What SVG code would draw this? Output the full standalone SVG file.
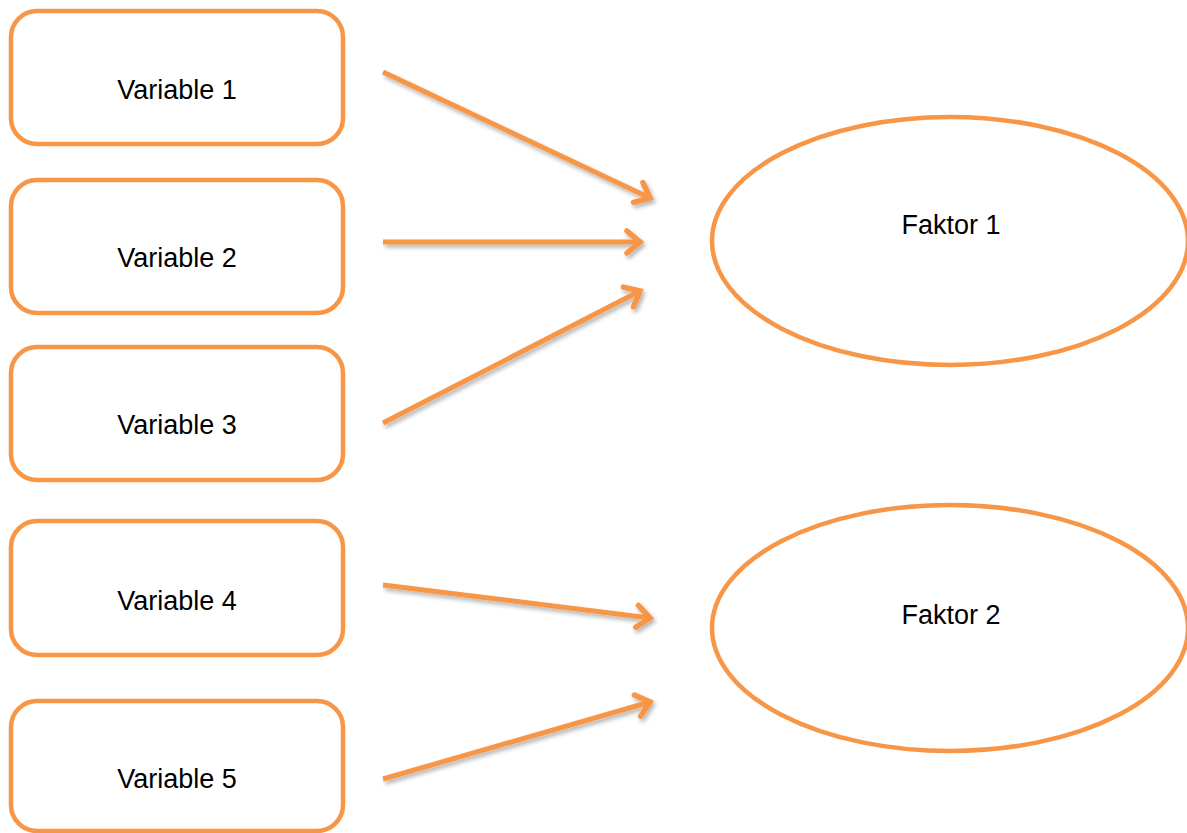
<svg xmlns="http://www.w3.org/2000/svg" width="1187" height="833" viewBox="0 0 1187 833">
<style>
.box{fill:#fff;stroke:#F79646;stroke-width:4.5}
.ell{fill:#fff;stroke:#F79646;stroke-width:4.5}
.lbl{font-family:"Liberation Sans",Arial,sans-serif;font-size:27px;fill:#000;text-anchor:middle}
.edge{fill:none;stroke:#F79646;stroke-width:5;stroke-linecap:butt}
</style>
<defs>
<filter id="sh" x="-10%" y="-50%" width="120%" height="200%">
<feDropShadow dx="2" dy="3" stdDeviation="2" flood-color="#000" flood-opacity="0.3"/>
</filter>
<marker id="arr" markerUnits="userSpaceOnUse" markerWidth="30" markerHeight="30" refX="22" refY="15" orient="auto" viewBox="0 0 30 30">
<polyline points="9,4 22,15 9,26" fill="none" stroke="#F79646" stroke-width="5.5" stroke-linecap="round" stroke-linejoin="miter"/>
</marker>
</defs>
<rect width="1187" height="833" fill="#fff"/>
<g id="var1"><rect class="box" x="11" y="11" width="332" height="133" rx="26"/><text class="lbl" x="177" y="99">Variable 1</text></g>
<g id="var2"><rect class="box" x="11" y="180" width="332" height="133" rx="26"/><text class="lbl" x="177" y="267">Variable 2</text></g>
<g id="var3"><rect class="box" x="11" y="347" width="332" height="133" rx="26"/><text class="lbl" x="177" y="434">Variable 3</text></g>
<g id="var4"><rect class="box" x="11" y="521" width="332" height="134" rx="26"/><text class="lbl" x="177" y="610">Variable 4</text></g>
<g id="var5"><rect class="box" x="11" y="701" width="332" height="130" rx="26"/><text class="lbl" x="177" y="788">Variable 5</text></g>
<g id="faktor1"><ellipse class="ell" cx="950" cy="241" rx="238" ry="124"/><text class="lbl" x="951" y="234">Faktor 1</text></g>
<g id="faktor2"><ellipse class="ell" cx="950" cy="628" rx="238" ry="123"/><text class="lbl" x="951" y="624">Faktor 2</text></g>
<g id="connectors" filter="url(#sh)">
<line class="edge" x1="383" y1="72" x2="650" y2="198" marker-end="url(#arr)"/>
<line class="edge" x1="383" y1="242" x2="640" y2="242" marker-end="url(#arr)"/>
<line class="edge" x1="383" y1="423" x2="640" y2="291" marker-end="url(#arr)"/>
<line class="edge" x1="383" y1="585" x2="650" y2="618" marker-end="url(#arr)"/>
<line class="edge" x1="383" y1="779" x2="650" y2="702" marker-end="url(#arr)"/>
</g>
</svg>
